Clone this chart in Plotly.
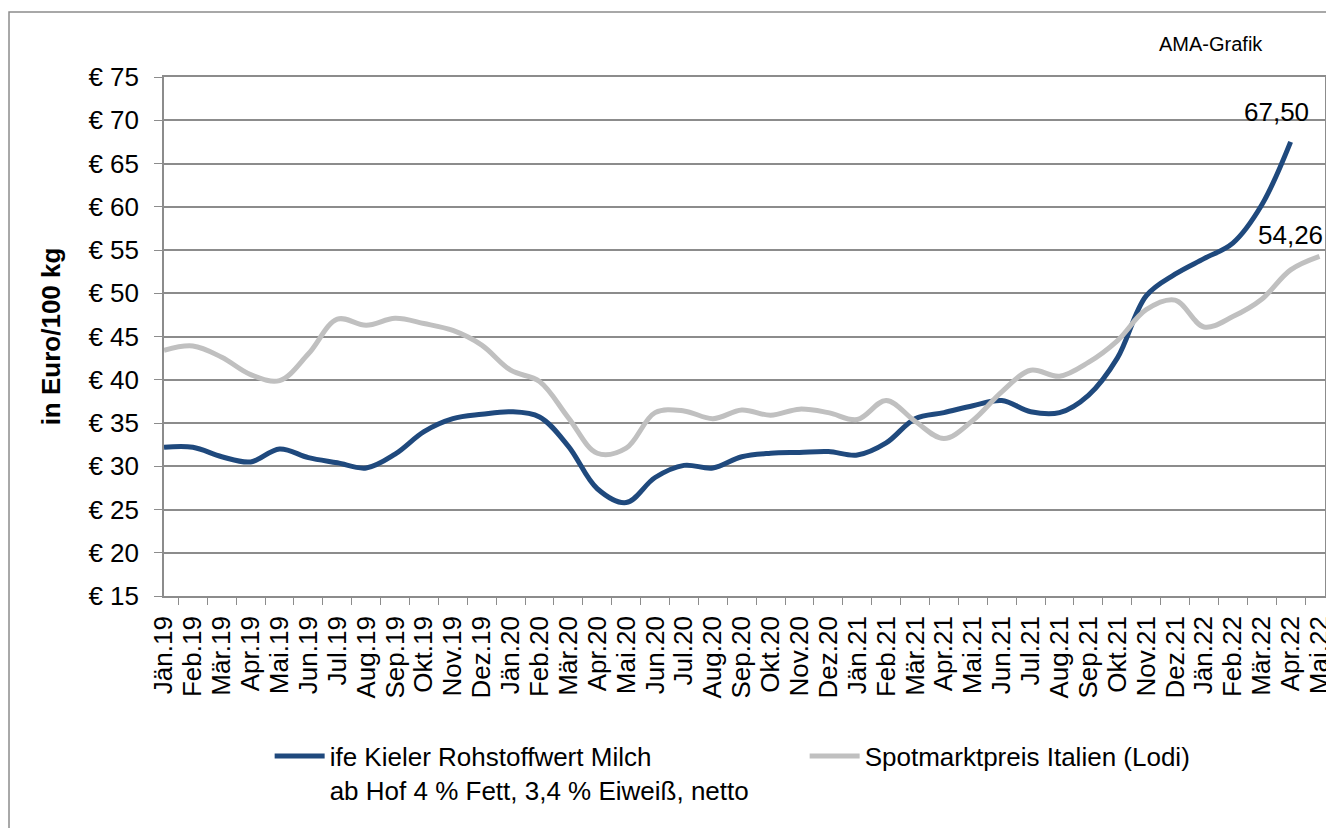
import plotly.graph_objects as go

# months on the x axis
months = ['Jän.19', 'Feb.19', 'Mär.19', 'Apr.19', 'Mai.19', 'Jun.19', 'Jul.19', 'Aug.19', 'Sep.19', 'Okt.19', 'Nov.19', 'Dez.19',
          'Jän.20', 'Feb.20', 'Mär.20', 'Apr.20', 'Mai.20', 'Jun.20', 'Jul.20', 'Aug.20', 'Sep.20', 'Okt.20', 'Nov.20', 'Dez.20',
          'Jän.21', 'Feb.21', 'Mär.21', 'Apr.21', 'Mai.21', 'Jun.21', 'Jul.21', 'Aug.21', 'Sep.21', 'Okt.21', 'Nov.21', 'Dez.21',
          'Jän.22', 'Feb.22', 'Mär.22', 'Apr.22', 'Mai.22']

# ife Kieler Rohstoffwert (Euro/100 kg)
kieler = [32.2, 32.2, 31.1, 30.5, 32.0, 31.0, 30.4, 29.8, 31.4, 34.0, 35.5, 36.0,
          36.3, 35.7, 32.3, 27.4, 25.8, 28.7, 30.1, 29.8, 31.1, 31.5, 31.6, 31.7,
          31.3, 32.7, 35.5, 36.2, 37.0, 37.6, 36.3, 36.2, 38.2, 42.5, 49.7, 52.2,
          54.0, 55.8, 60.2, 67.50, None]

# Spotmarktpreis Italien (Lodi)
lodi = [43.4, 43.9, 42.6, 40.6, 39.9, 43.0, 47.0, 46.3, 47.1, 46.5, 45.7, 44.0,
        41.1, 39.8, 35.6, 31.5, 32.1, 36.2, 36.4, 35.5, 36.5, 35.9, 36.6, 36.2,
        35.4, 37.6, 35.2, 33.2, 35.3, 38.6, 41.1, 40.4, 42.0, 44.5, 48.1, 49.2,
        46.1, 47.3, 49.3, 52.7, 54.26]

FONT = 'Liberation Sans, Arial, sans-serif'
GRID = '#8c8c8c'

fig = go.Figure()
fig.add_trace(go.Scatter(x=months, y=kieler, mode='lines', line=dict(color='#1f497d', width=5, shape='spline'),
                         name='ife Kieler Rohstoffwert Milch<br>ab Hof 4 % Fett, 3,4 % Eiweiß, netto'))
fig.add_trace(go.Scatter(x=months, y=lodi, mode='lines', line=dict(color='#c0c0c0', width=5, shape='spline'),
                         name='Spotmarktpreis Italien (Lodi)'))

# data labels for the last values
fig.add_annotation(x=months[39], y=kieler[39], text=f'{kieler[39]:.2f}'.replace('.', ','), showarrow=False,
                   xshift=-14, yshift=30, font=dict(size=26, color='black', family=FONT))
fig.add_annotation(x=months[40], y=lodi[40], text=f'{lodi[40]:.2f}'.replace('.', ','), showarrow=False,
                   xshift=-29, yshift=21, font=dict(size=26, color='black', family=FONT))

fig.add_annotation(x=0.9018, y=1.0636, xref='paper', yref='paper', xanchor='center', yanchor='middle',
                   text='AMA-Grafik', showarrow=False, font=dict(size=20, color='black', family=FONT))

# outer frame of the chart (right and bottom edges lie outside the picture)
fig.add_shape(type='rect', xref='paper', yref='paper', x0=-0.1335, x1=1.013, y0=-0.47, y1=1.1252,
              line=dict(color=GRID, width=1.5), layer='below')

# page has an 8px body margin on the left/top
fig.update_layout(
    width=1326, height=820,
    margin=dict(l=156, r=9, t=69, b=232, autoexpand=False),
    plot_bgcolor='white', paper_bgcolor='white',
    font=dict(family=FONT, size=26, color='black'),
    showlegend=True,
    legend=dict(orientation='h', x=0.091, y=-0.263, xanchor='left', yanchor='top', valign='top',
                font=dict(size=26), entrywidth=470, itemwidth=50, tracegroupgap=0),
)
fig.update_xaxes(type='category', dtick=1, tickangle=-90, tickson='boundaries', ticks='outside', ticklen=7,
                 tickcolor=GRID, showline=True, linecolor=GRID, linewidth=1.5, mirror=True, showgrid=False,
                 tickfont=dict(size=26), automargin=False, ticklabelstandoff=8)
fig.update_yaxes(range=[15, 75], dtick=5, tickprefix='€ ', ticks='outside', ticklen=8, tickcolor=GRID,
                 showline=True, linecolor=GRID, linewidth=1.5, mirror=True, gridcolor=GRID, gridwidth=1.5,
                 zeroline=False, ticklabelstandoff=10, tickfont=dict(size=26), automargin=False,
                 title=dict(text='<b>in Euro/100 kg</b>', font=dict(size=26), standoff=20))

fig.write_html('out.html')
